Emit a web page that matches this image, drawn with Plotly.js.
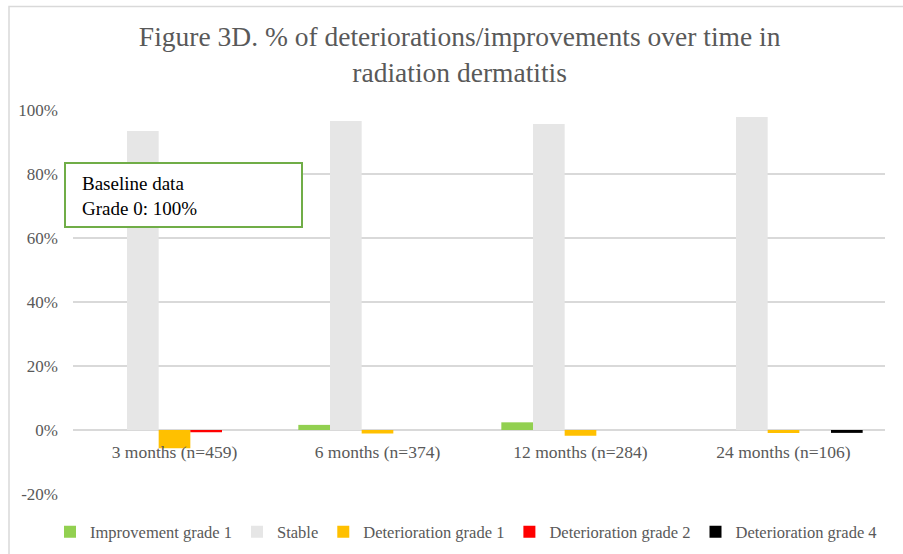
<!DOCTYPE html>
<html>
<head>
<meta charset="utf-8">
<script src="https://cdn.plot.ly/plotly-3.0.1.min.js"></script>
<style>html,body{margin:0;padding:0;background:#fff;}#chart{width:903px;height:554px;}</style>
</head>
<body>
<div id="chart"></div>
<script>
const categories = ["3 months (n=459)", "6 months (n=374)", "12 months (n=284)", "24 months (n=106)"];
const improvementGrade1 = [0, 1.6, 2.4, 0];
const stable = [93.4, 96.6, 95.6, 97.8];
const deteriorationGrade1 = [-5.7, -1.1, -1.8, -0.9];
const deteriorationGrade2 = [-0.7, 0, 0, 0];
const deteriorationGrade4 = [0, 0, 0, -0.9];
const yTickVals = [-20, 0, 20, 40, 60, 80, 100];
const yTickText = ["-20%", "0%", "20%", "40%", "60%", "80%", "100%"];

const serif = "Liberation Serif, Times New Roman, serif";
const gray = "#595959";

const series = [
  {name: "Improvement grade 1", y: improvementGrade1, color: "#92D050"},
  {name: "Stable", y: stable, color: "#E6E6E6"},
  {name: "Deterioration grade 1", y: deteriorationGrade1, color: "#FFC000"},
  {name: "Deterioration grade 2", y: deteriorationGrade2, color: "#FF0000"},
  {name: "Deterioration grade 4", y: deteriorationGrade4, color: "#000000"}
];

const data = series.map(s => ({
  type: "bar",
  name: s.name,
  x: categories,
  y: s.y,
  marker: {color: s.color},
  hoverinfo: "x+y+name"
}));

const layout = {
  width: 903,
  height: 554,
  margin: {l: 73, r: 18, t: 110, b: 60, autoexpand: false},
  paper_bgcolor: "#ffffff",
  plot_bgcolor: "#ffffff",
  barmode: "group",
  bargap: 0.22,
  bargroupgap: 0,
  font: {family: serif, color: gray, size: 17},
  title: {
    text: "Figure 3D. % of deteriorations/improvements over time in<br>radiation dermatitis",
    font: {family: serif, size: 27.5, color: gray},
    x: 0.509, xref: "container", xanchor: "center",
    y: 0.917, yref: "container", yanchor: "middle"
  },
  xaxis: {
    type: "category",
    anchor: "free",
    position: 64 / 384,
    showline: false,
    showgrid: false,
    zeroline: false,
    ticks: "",
    automargin: false,
    ticklabelstandoff: 9,
    tickfont: {family: serif, size: 17.5, color: gray}
  },
  yaxis: {
    range: [-20, 100],
    tickvals: yTickVals,
    ticktext: yTickText,
    showgrid: true,
    gridcolor: "#D9D9D9",
    gridwidth: 1.3,
    zeroline: true,
    zerolinecolor: "#D9D9D9",
    zerolinewidth: 1.3,
    showline: false,
    ticks: "",
    automargin: false,
    ticklabelstandoff: 14,
    tickfont: {family: serif, size: 17, color: gray}
  },
  showlegend: true,
  legend: {
    orientation: "h",
    xref: "paper", yref: "paper",
    x: (50 - 73) / 812, xanchor: "left",
    y: (494 - 532) / 384, yanchor: "middle",
    font: {family: serif, size: 16.5, color: gray},
    itemwidth: 30,
    tracegroupgap: 0,
    traceorder: "normal"
  },
  shapes: [
    {type: "rect", xref: "paper", yref: "paper",
     x0: (9 - 73) / 812, x1: (906 - 73) / 812,
     y0: (494 - 560) / 384, y1: (494 - 6.5) / 384,
     line: {color: "#D9D9D9", width: 1.5}, fillcolor: "rgba(0,0,0,0)", layer: "below"},
    {type: "rect", xref: "paper", yref: "paper",
     x0: (65 - 73) / 812, x1: (302 - 73) / 812,
     y0: (494 - 227) / 384, y1: (494 - 163) / 384,
     line: {color: "#70AD47", width: 2}, fillcolor: "#ffffff", layer: "above"}
  ],
  annotations: [
    {xref: "paper", yref: "paper",
     x: (80 - 73) / 812, y: (494 - 196) / 384,
     xanchor: "left", yanchor: "middle", align: "left",
     showarrow: false,
     text: "Baseline data<br>Grade 0: 100%",
     font: {family: serif, size: 19, color: "#000000"}}
  ]
};

Plotly.newPlot("chart", data, layout, {displayModeBar: false, staticPlot: true});
</script>
</body>
</html>
